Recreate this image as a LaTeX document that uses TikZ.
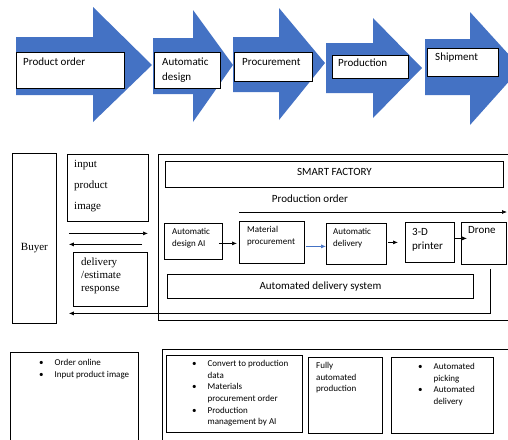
\documentclass[tikz,border=0pt]{standalone}
\usepackage{fontspec}
\setmainfont{Carlito}
\newfontfamily\tnr{Liberation Serif}
\usetikzlibrary{arrows.meta}
\definecolor{officeblue}{RGB}{68,114,196}

\begin{document}
\begin{tikzpicture}[x=1pt, y=-1pt,
    bigarrow/.style={fill=officeblue},
    box/.style={draw, line width=0.8pt, fill=white, inner sep=0pt, anchor=north west},
    lbl/.style={anchor=north west, inner sep=0pt, align=left, font=\fontsize{11}{15}\selectfont},
    smalllbl/.style={lbl, font=\fontsize{9}{12}\selectfont},
    seriflbl/.style={lbl, font=\tnr\fontsize{11}{13}\selectfont},
    listlbl/.style={anchor=north west, inner sep=0pt, font=\fontsize{9}{11.7}\selectfont},
    flow/.style={line width=0.7pt, -{Latex[length=5pt,width=4pt]}}]
    \useasboundingbox (0,0) rectangle (508,439);
    \clip (0,0) rectangle (508,439);

    % Process steps
    \fill[bigarrow] (16,37) -- (93,37) -- (93,7) -- (152,65) -- (93,122) -- (93,95) -- (16,95) -- cycle;
    \fill[bigarrow] (153,38) -- (193,38) -- (193,10) -- (233,65) -- (193,122) -- (193,94) -- (153,94) -- cycle;
    \fill[bigarrow] (233,37) -- (279,37) -- (279,8) -- (325,63) -- (279,120) -- (279,92) -- (233,92) -- cycle;
    \fill[bigarrow] (326,43) -- (373,43) -- (373,18) -- (422,68) -- (373,118) -- (373,93) -- (326,93) -- cycle;
    \fill[bigarrow] (425,39) -- (470,39) -- (470,12) -- (521,68) -- (470,125) -- (470,95) -- (425,95) -- cycle;

    \node[box, minimum width=108pt, minimum height=36pt] (order) at (16,52) {};
    \node[lbl] at ([xshift=7pt,yshift=-6pt]order.north west) {Product order};
    \node[box, minimum width=66pt, minimum height=36pt] (design) at (154,52) {};
    \node[lbl] at ([xshift=8pt,yshift=-6pt]design.north west) {Automatic\\design};
    \node[box, minimum width=78pt, minimum height=29pt] (procure) at (234,52) {};
    \node[lbl] at ([xshift=8pt,yshift=-6pt]procure.north west) {Procurement};
    \node[box, minimum width=76pt, minimum height=23pt] (produce) at (332,55) {};
    \node[lbl] at ([xshift=6pt,yshift=-4pt]produce.north west) {Production};
    \node[box, minimum width=71pt, minimum height=28pt] (ship) at (427,48) {};
    \node[lbl] at ([xshift=8pt,yshift=-5pt]ship.north west) {Shipment};

    % Buyer side
    \node[box, minimum width=44pt, minimum height=170pt] (buyer) at (12,153) {};
    \node[font=\tnr\fontsize{11}{13}\selectfont] at ([yshift=-10pt]buyer.center) {Buyer};
    \node[box, minimum width=81pt, minimum height=67pt] (inbox) at (67,154) {};
    \node[seriflbl, font=\tnr\fontsize{11}{21}\selectfont] at ([xshift=7pt,yshift=-6.5pt]inbox.north west) {input\\product\\image};
    \node[box, minimum width=74pt, minimum height=54pt] (delivbox) at (73,252) {};
    \node[seriflbl] at ([xshift=8pt,yshift=-5.5pt]delivbox.north west) {delivery\\/estimate\\response};

    % Smart factory
    \node[box, minimum width=360pt, minimum height=166pt] (factory) at (158,154) {};
    \node[box, minimum width=338pt, minimum height=26pt, font=\fontsize{11}{13}\selectfont, text depth=5pt] (smart) at (165,161) {SMART FACTORY};
    \node[font=\fontsize{11}{13}\selectfont] (orderlbl) at (310,199) {Production order};
    \coordinate (orderend) at (507,212);

    \node[box, minimum width=58pt, minimum height=36pt] (aidesign) at (164,223) {};
    \node[smalllbl] at ([xshift=8pt,yshift=-5pt]aidesign.north west) {Automatic\\design AI};
    \node[box, minimum width=65pt, minimum height=42pt] (matproc) at (239,221) {};
    \node[smalllbl] at ([xshift=8pt,yshift=-5pt]matproc.north west) {Material\\procurement};
    \node[box, minimum width=60pt, minimum height=41pt] (autodel) at (326,223) {};
    \node[smalllbl] at ([xshift=7pt,yshift=-5pt]autodel.north west) {Automatic\\delivery};
    \node[box, minimum width=49pt, minimum height=40pt] (printer) at (405,222) {};
    \node[lbl, font=\fontsize{11}{14}\selectfont] at ([xshift=7pt,yshift=-6pt]printer.north west) {3-D\\printer};
    \node[box, minimum width=45pt, minimum height=42pt] (drone) at (461,222) {};
    \node[lbl] at ([xshift=7pt,yshift=-4pt]drone.north west) {Drone};
    \node[box, minimum width=306pt, minimum height=24pt, font=\fontsize{11}{13}\selectfont] (adsys) at (167,274) {Automated delivery system};

    % Flows
    \draw[flow] ([xshift=12pt,yshift=5pt]buyer.east) -- ([xshift=-10pt,yshift=4pt]factory.west);
    \draw[flow] ([xshift=-16pt,yshift=-7pt]factory.west) -- ([xshift=12pt,yshift=-6pt]buyer.east);
    \draw[flow] ([yshift=9pt]matproc.north west) -- (orderend);
    \draw[flow] ([xshift=-4pt,yshift=-2pt]aidesign.east) -- ([xshift=-2pt,yshift=-1pt]matproc.west);
    \draw[flow, officeblue] ([xshift=1pt,yshift=-4pt]matproc.east) -- ([yshift=-2.5pt]autodel.west);
    \draw[flow] ([xshift=1pt,yshift=1.5pt]autodel.east) -- ([xshift=-7pt]printer.west);
    \draw[flow] ([xshift=-1pt,yshift=4pt]printer.east) -- ([xshift=6pt,yshift=5pt]drone.west);
    \draw[flow] ([xshift=6.5pt,yshift=-4pt]drone.south) |- ([xshift=12pt,yshift=-75pt]buyer.east);

    % Functions
    \node[box, minimum width=128pt, minimum height=100pt] (online) at (10,352) {};
    \node[listlbl] at ([xshift=29pt,yshift=-5pt]online.north west) {\begin{tabular}{@{}l@{\hspace{11pt}}l@{}}
        \textbullet & Order online\\
        \textbullet & Input product image
    \end{tabular}};
    \node[box, minimum width=360pt, minimum height=100pt] (ctrl) at (162,349) {};
    \node[box, minimum width=136pt, minimum height=77pt] (aibox) at (166,355) {};
    \node[listlbl] at ([xshift=26pt,yshift=-3pt]aibox.north west) {\begin{tabular}{@{}l@{\hspace{11pt}}l@{}}
        \textbullet & Convert to production\\
                    & data\\
        \textbullet & Materials\\
                    & procurement order\\
        \textbullet & Production\\
                    & management by AI
    \end{tabular}};
    \node[box, minimum width=74pt, minimum height=76pt] (fullbox) at (308,357) {};
    \node[smalllbl, font=\fontsize{9}{11.5}\selectfont] at ([xshift=8pt,yshift=-5.5pt]fullbox.north west) {Fully\\automated\\production};
    \node[box, minimum width=102pt, minimum height=76pt] (pickbox) at (391,357) {};
    \node[listlbl] at ([xshift=27pt,yshift=-4pt]pickbox.north west) {\begin{tabular}{@{}l@{\hspace{11pt}}l@{}}
        \textbullet & Automated\\
                    & picking\\
        \textbullet & Automated\\
                    & delivery
    \end{tabular}};
\end{tikzpicture}
\end{document}
